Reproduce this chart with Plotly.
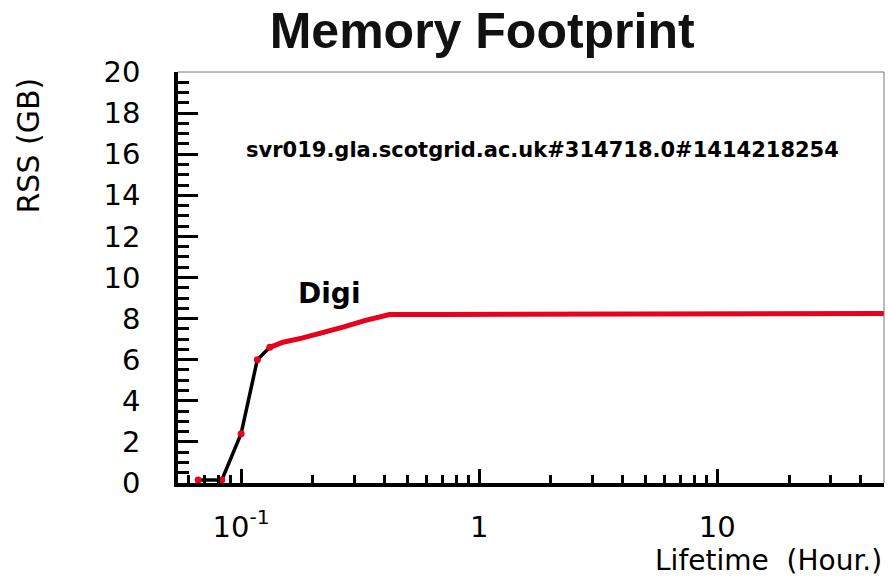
import plotly.graph_objects as go

# Lifetime (hours) and resident set size (GB) samples for the job
lifetime_h = [0.066, 0.083, 0.100, 0.117, 0.132, 0.150, 0.180, 0.220, 0.270, 0.330, 0.420,
              0.70, 1.5, 3.0, 6.0, 12.0, 25.0, 50.0]
rss_gb = [0.15, 0.15, 2.4, 6.0, 6.6, 6.85, 7.05, 7.3, 7.6, 7.9, 8.2,
          8.2, 8.2, 8.22, 8.23, 8.23, 8.24, 8.25]

step_label = "Digi"
job_id = "svr019.gla.scotgrid.ac.uk#314718.0#1414218254"
x_tickvals = [0.1, 1, 10]
x_ticktext = ["10<sup>-1</sup>", "1", "10"]
x_minor_vals = [0.06, 0.07, 0.08, 0.09,
                0.2, 0.3, 0.4, 0.5, 0.6, 0.7, 0.8, 0.9,
                2, 3, 4, 5, 6, 7, 8, 9,
                20, 30, 40, 50]
y_tickvals = [0, 2, 4, 6, 8, 10, 12, 14, 16, 18, 20]

FONT = "DejaVu Sans, Liberation Sans, Arial, sans-serif"
TITLE_FONT = "Liberation Sans, Arial, Helvetica, sans-serif"
RED = "#e8001c"

n_ramp = 4  # samples before the steady red plateau

fig = go.Figure()
# full curve in black
fig.add_trace(go.Scatter(x=lifetime_h, y=rss_gb, mode="lines",
                         line=dict(color="black", width=3.5), showlegend=False))
# dense sampling after ramp-up drawn in red
fig.add_trace(go.Scatter(x=lifetime_h[n_ramp:], y=rss_gb[n_ramp:], mode="lines",
                         line=dict(color=RED, width=5), showlegend=False))
# individual sample markers on the ramp
fig.add_trace(go.Scatter(x=lifetime_h[:n_ramp + 1], y=rss_gb[:n_ramp + 1], mode="markers",
                         marker=dict(color=RED, size=7), showlegend=False))

fig.update_layout(
    width=888, height=579,
    margin=dict(l=178, r=4, t=72, b=96),
    paper_bgcolor="white", plot_bgcolor="white",
    font=dict(family=FONT, color="black", size=29),
    title=dict(text="<b>Memory Footprint</b>", x=0.543, xanchor="center", y=0.947, yanchor="middle",
               font=dict(size=50, family=TITLE_FONT, color="#111111")),
)

fig.update_xaxes(
    type="log", range=[-1.265, 1.70],
    tickvals=x_tickvals, ticktext=x_ticktext,
    ticks="inside", ticklen=14, tickwidth=3, tickcolor="black",
    showline=True, linecolor="black", linewidth=3.5, mirror=False,
    showgrid=False, zeroline=False, ticklabelstandoff=15,
    tickfont=dict(size=29, family=FONT),
    minor=dict(tickvals=x_minor_vals, ticks="inside", ticklen=8, tickwidth=3,
               tickcolor="black", showgrid=False),
)
fig.update_yaxes(
    range=[0, 20], tickvals=y_tickvals,
    ticks="inside", ticklen=20, tickwidth=3, tickcolor="black",
    showline=True, linecolor="black", linewidth=3.5, mirror=False,
    showgrid=False, zeroline=False, ticklabelstandoff=28,
    tickfont=dict(size=29, family=FONT),
    minor=dict(dtick=0.5, ticks="inside", ticklen=11, tickwidth=3, tickcolor="black", showgrid=False),
)

# thin top and right frame edges
fig.add_shape(type="line", xref="paper", yref="paper", x0=0, x1=1, y0=1, y1=1,
              line=dict(color="#777777", width=1))
fig.add_shape(type="line", xref="paper", yref="paper", x0=1, x1=1, y0=0, y1=1,
              line=dict(color="#777777", width=1))

fig.add_annotation(text="RSS (GB)", textangle=-90, xref="paper", yref="paper",
                   x=-0.212, y=0.822, xanchor="center", yanchor="middle", showarrow=False,
                   font=dict(size=30, family=FONT))
fig.add_annotation(text="Lifetime  (Hour.)", xref="paper", yref="paper",
                   x=1.0, y=-0.188, xanchor="right", yanchor="middle", showarrow=False,
                   font=dict(size=28, family=FONT))
fig.add_annotation(text="<b>" + job_id + "</b>", xref="paper", yref="paper",
                   x=0.516, y=0.81, xanchor="center", yanchor="middle", showarrow=False,
                   font=dict(size=21, family=FONT))
fig.add_annotation(text="<b>" + step_label + "</b>", xref="paper", yref="paper",
                   x=0.214, y=0.462, xanchor="center", yanchor="middle", showarrow=False,
                   font=dict(size=28, family=FONT))

fig.write_html("out.html")
